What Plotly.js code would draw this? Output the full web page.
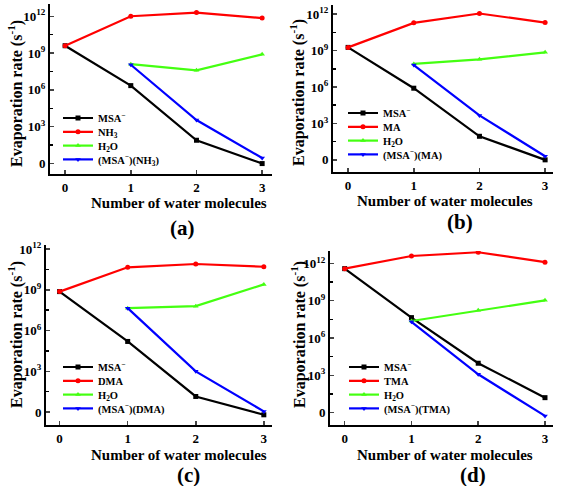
<!DOCTYPE html>
<html>
<head>
<meta charset="utf-8">
<script src="https://cdn.plot.ly/plotly-3.0.1.min.js"></script>
<style>html,body{margin:0;padding:0;background:#fff;}#chart{width:567px;height:486px;}</style>
</head>
<body>
<div id="chart"></div>
<script>
// ---- data (values are log10 of evaporation rate, s^-1) ----
var waterAll = [0, 1, 2, 3];
var waterHyd = [1, 2, 3];

var panelLetters = ['(a)', '(b)', '(c)', '(d)'];
var baseNames = ['NH<sub>3</sub>', 'MA', 'DMA', 'TMA'];
var clusterNames = ['(MSA<sup>\u2212</sup>)(NH<sub>3</sub>)', '(MSA<sup>\u2212</sup>)(MA)', '(MSA<sup>\u2212</sup>)(DMA)', '(MSA<sup>\u2212</sup>)(TMA)'];

var msaA = [9.6, 6.35, 1.9, 0.0];
var baseA = [9.6, 12.0, 12.3, 11.85];
var waterA = [8.1, 7.6, 8.9];
var clusterA = [8.05, 3.55, 0.45];

var msaB = [9.26, 5.9, 1.94, 0.0];
var baseB = [9.26, 11.28, 12.05, 11.3];
var waterB = [7.9, 8.28, 8.85];
var clusterB = [7.8, 3.66, 0.3];

var msaC = [8.87, 5.2, 1.15, -0.2];
var baseC = [8.87, 10.66, 10.9, 10.7];
var waterC = [7.65, 7.8, 9.4];
var clusterC = [7.65, 3.0, 0.05];

var msaD = [11.58, 7.64, 3.97, 1.2];
var baseD = [11.58, 12.6, 12.9, 12.1];
var waterD = [7.37, 8.23, 9.03];
var clusterD = [7.3, 3.08, -0.27];

var yTickVals = [0, 3, 6, 9, 12];
var yTickText = ['0', '10<sup>3</sup>', '10<sup>6</sup>', '10<sup>9</sup>', '10<sup>12</sup>'];
var xTickVals = [0, 1, 2, 3];
var xTitle = 'Number of water molecules';
var yTitle = 'Evaporation rate (s<sup>-1</sup>)';

// ---- styling / layout ----
var W = 567, H = 486;
function px(x) { return x / W; }
function py(y) { return 1 - y / H; }
var FONT = 'Liberation Serif, Times New Roman, serif';

var panels = [
  {msa: msaA, base: baseA, water: waterA, cl: clusterA,
   x0: 50, x1: 272, y0: 4, y1: 174, yr: [-0.85, 13.0], xr: [-0.23, 3.15],
   legX: 58, legY: 118, ytx: 15, yty: 94, xtx: 179, xty: 203, lx: 182, ly: 228},
  {msa: msaB, base: baseB, water: waterB, cl: clusterB,
   x0: 333, x1: 553, y0: 5, y1: 172, yr: [-1.0, 12.75], xr: [-0.23, 3.12],
   legX: 343, legY: 113, ytx: 298, yty: 93, xtx: 445, xty: 201, lx: 460, ly: 222},
  {msa: msaC, base: baseC, water: waterC, cl: clusterC,
   x0: 46, x1: 272, y0: 245, y1: 425, yr: [-0.95, 12.3], xr: [-0.2, 3.12],
   legX: 58, legY: 367, ytx: 15, yty: 335, xtx: 179, xty: 455, lx: 188, ly: 475},
  {msa: msaD, base: baseD, water: waterD, cl: clusterD,
   x0: 330, x1: 553, y0: 251, y1: 425, yr: [-1.0, 13.0], xr: [-0.22, 3.12],
   legX: 344, legY: 367, ytx: 298, yty: 335, xtx: 445, xty: 455, lx: 473, ly: 475}
];
var legendRowGap = 13.8;

var colors = {msa: '#000000', base: '#ff0000', water: '#44ff11', cl: '#0000ff'};
var symbols = {msa: 'square', base: 'circle', water: 'triangle-up', cl: 'triangle-down'};

var data = [];
var layout = {
  width: W, height: H,
  margin: {l: 0, r: 0, t: 0, b: 0},
  showlegend: true,
  paper_bgcolor: '#fff', plot_bgcolor: 'rgba(0,0,0,0)',
  font: {family: FONT, color: '#000', weight: 'bold'},
  annotations: []
};

var legendCount = 0;
panels.forEach(function (p, i) {
  var n = i + 1;
  var xa = 'xaxis' + (n === 1 ? '' : n), ya = 'yaxis' + (n === 1 ? '' : n);
  var xr = 'x' + (n === 1 ? '' : n), yr = 'y' + (n === 1 ? '' : n);
  layout[xa] = {
    domain: [px(p.x0), px(p.x1)], anchor: yr, range: p.xr,
    tickmode: 'array', tickvals: xTickVals, ticks: 'inside', ticklen: 4, tickwidth: 1.5,
    showline: true, linewidth: 2, linecolor: '#000', showgrid: false, zeroline: false,
    tickfont: {family: FONT, size: 13, weight: 'bold'}
  };
  layout[ya] = {
    domain: [py(p.y1), py(p.y0)], anchor: xr, range: p.yr,
    tickmode: 'array', tickvals: yTickVals, ticktext: yTickText, ticks: 'inside', ticklen: 4, tickwidth: 1.5,
    minor: {ticks: 'inside', ticklen: 3, tickmode: 'linear', tick0: 1.5, dtick: 3, tickcolor: '#000'},
    showline: true, linewidth: 2, linecolor: '#000', showgrid: false, zeroline: false,
    tickfont: {family: FONT, size: 13, weight: 'bold'}
  };
  var series = [
    {key: 'msa', x: waterAll, y: p.msa, name: 'MSA<sup>\u2212</sup>'},
    {key: 'base', x: waterAll, y: p.base, name: baseNames[i]},
    {key: 'water', x: waterHyd, y: p.water, name: 'H<sub>2</sub>O'},
    {key: 'cl', x: waterHyd, y: p.cl, name: clusterNames[i]}
  ];
  series.forEach(function (s, k) {
    legendCount++;
    var lg = 'legend' + (legendCount === 1 ? '' : legendCount);
    data.push({
      type: 'scatter', mode: 'lines+markers', x: s.x, y: s.y, name: s.name,
      xaxis: xr, yaxis: yr, legend: lg, showlegend: true,
      line: {color: colors[s.key], width: 2.2},
      marker: {color: colors[s.key], symbol: symbols[s.key], size: 5}
    });
    layout[lg] = {
      x: px(p.legX), y: py(p.legY + k * legendRowGap), xanchor: 'left', yanchor: 'middle',
      xref: 'paper', yref: 'paper', bgcolor: 'rgba(0,0,0,0)', borderwidth: 0,
      itemwidth: 30, font: {family: FONT, size: 10.5, weight: 'bold', color: '#000'}
    };
  });
  layout.annotations.push(
    {text: yTitle, xref: 'paper', yref: 'paper', x: px(p.ytx), y: py(p.yty), textangle: -90,
     showarrow: false, xanchor: 'center', yanchor: 'middle', font: {family: FONT, size: 16, weight: 'bold'}},
    {text: xTitle, xref: 'paper', yref: 'paper', x: px(p.xtx), y: py(p.xty),
     showarrow: false, xanchor: 'center', yanchor: 'middle', font: {family: FONT, size: 15, weight: 'bold'}},
    {text: panelLetters[i], xref: 'paper', yref: 'paper', x: px(p.lx), y: py(p.ly),
     showarrow: false, xanchor: 'center', yanchor: 'middle', font: {family: FONT, size: 21, weight: 'bold'}}
  );
});

Plotly.newPlot('chart', data, layout, {displayModeBar: false, staticPlot: true});
</script>
</body>
</html>
